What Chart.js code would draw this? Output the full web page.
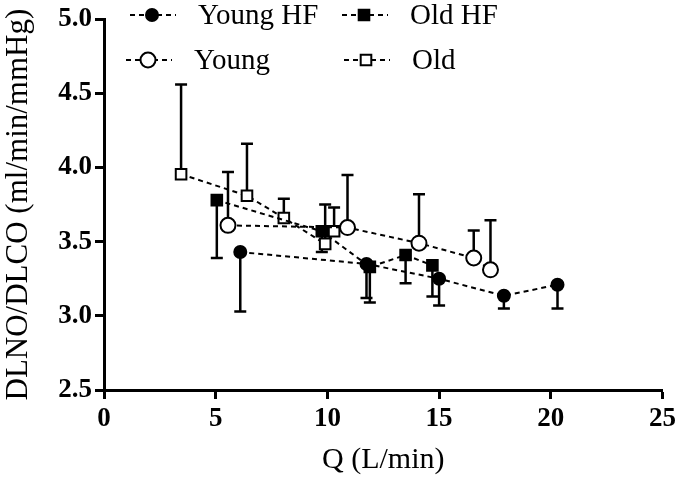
<!DOCTYPE html>
<html lang="en">
<head>
<meta charset="UTF-8">
<title>DLNO/DLCO vs Q</title>
<script src="https://cdn.jsdelivr.net/npm/chart.js"></script>
<style>
  html, body { margin: 0; padding: 0; background: #fff; }
</style>
</head>
<body>
<canvas id="chart" width="680" height="478"></canvas>
<script>
// values; err = length of the one-sided SD bar
const youngHfQ = [6.1, 11.75, 15.0, 17.9, 20.3];
const youngHfRatio = [3.43, 3.35, 3.25, 3.135, 3.21];
const youngHfErr = [0.40, 0.23, 0.18, 0.085, 0.16];

const youngQ = [5.55, 10.9, 14.1, 16.55, 17.3];
const youngRatio = [3.61, 3.595, 3.49, 3.39, 3.31];
const youngErr = [0.36, 0.355, 0.33, 0.185, 0.335];

const oldHfQ = [5.05, 9.75, 11.9, 13.5, 14.7];
const oldHfRatio = [3.78, 3.57, 3.33, 3.41, 3.34];
const oldHfErr = [0.39, 0.14, 0.24, 0.19, 0.21];

const oldQ = [3.45, 6.4, 8.05, 9.9, 10.3];
const oldRatio = [3.955, 3.81, 3.66, 3.485, 3.57];
const oldErr = [0.605, 0.35, 0.13, 0.265, 0.16];

const xTicks = [0, 5, 10, 15, 20, 25];
const yTicks = [2.5, 3.0, 3.5, 4.0, 4.5, 5.0];

const SERIF = "'Liberation Serif'";
Chart.defaults.font.family = SERIF;

function points(xs, ys) {
    return xs.map((x, i) => ({ x: x, y: ys[i] }));
}

function series(label, xs, ys, errs, dir, style, filled, radius) {
    return {
        label: label,
        data: points(xs, ys),
        errs: errs,
        errDir: dir,
        showLine: true,
        borderColor: '#000',
        borderWidth: 2,
        borderDash: [5, 4],
        pointStyle: style,
        pointRadius: radius,
        pointBorderWidth: 2,
        pointBorderColor: '#000',
        pointBackgroundColor: filled ? '#000' : '#fff'
    };
}

// dataset 0 is drawn on top in Chart.js
const datasets = [
    series('Young HF', youngHfQ, youngHfRatio, youngHfErr, -1, 'circle', true, 6),
    series('Old HF', oldHfQ, oldHfRatio, oldHfErr, -1, 'rect', true, 7.5),
    series('Young', youngQ, youngRatio, youngErr, 1, 'circle', false, 7.5),
    series('Old', oldQ, oldRatio, oldErr, 1, 'rect', false, 7.5)
];

const errorBars = {
    id: 'errorBars',
    beforeDatasetsDraw(chart) {
        const ctx = chart.ctx;
        const xs = chart.scales.x, ys = chart.scales.y;
        ctx.save();
        ctx.strokeStyle = '#000';
        ctx.lineWidth = 2.5;
        ctx.setLineDash([]);
        chart.data.datasets.forEach(ds => {
            ds.data.forEach((p, i) => {
                const px = xs.getPixelForValue(p.x);
                const py = ys.getPixelForValue(p.y);
                const ey = ys.getPixelForValue(p.y + ds.errDir * ds.errs[i]);
                ctx.beginPath();
                ctx.moveTo(px, py);
                ctx.lineTo(px, ey);
                ctx.moveTo(px - 6, ey);
                ctx.lineTo(px + 6, ey);
                ctx.stroke();
            });
        });
        ctx.restore();
    }
};

// 2x2 legend in the top of the plot
const legendSpots = [
    { ds: 0, x: 152, y: 15 },
    { ds: 1, x: 364, y: 15 },
    { ds: 2, x: 148, y: 60 },
    { ds: 3, x: 366, y: 60 }
];

const gridLegend = {
    id: 'gridLegend',
    afterDraw(chart) {
        const ctx = chart.ctx;
        ctx.save();
        legendSpots.forEach(s => {
            const ds = chart.data.datasets[s.ds];
            ctx.strokeStyle = '#000';
            ctx.lineWidth = 2;
            ctx.setLineDash([5, 4]);
            ctx.beginPath();
            ctx.moveTo(s.x - 22, s.y);
            ctx.lineTo(s.x + 24, s.y);
            ctx.stroke();
            ctx.setLineDash([]);
            ctx.fillStyle = ds.pointBackgroundColor;
            ctx.strokeStyle = '#000';
            ctx.lineWidth = 2;
            Chart.helpers.drawPoint(ctx, {
                pointStyle: ds.pointStyle,
                radius: ds.pointRadius,
                rotation: 0,
                borderWidth: 2
            }, s.x, s.y);
            ctx.fillStyle = '#000';
            ctx.font = '29px ' + SERIF;
            ctx.textBaseline = 'middle';
            ctx.textAlign = 'left';
            ctx.fillText(ds.label, s.x + 46, s.y + 1);
        });
        ctx.restore();
    }
};

new Chart(document.getElementById('chart'), {
    type: 'scatter',
    data: { datasets: datasets },
    plugins: [errorBars, gridLegend],
    options: {
        responsive: false,
        animation: false,
        devicePixelRatio: 1,
        layout: { padding: { top: 14, right: 15, left: 0, bottom: 0 } },
        plugins: {
            legend: { display: false },
            tooltip: { enabled: false }
        },
        scales: {
            x: {
                type: 'linear',
                min: 0,
                max: 25,
                afterBuildTicks: axis => { axis.ticks = xTicks.map(v => ({ value: v })); },
                afterFit: axis => { axis.height = 88; },
                border: { display: true, color: '#000', width: 3 },
                grid: { drawOnChartArea: false, drawTicks: true, tickLength: 9, tickColor: '#000', tickWidth: 3 },
                ticks: {
                    color: '#000',
                    padding: 4,
                    font: { family: SERIF, size: 27, weight: 'bold' },
                    callback: v => v
                },
                title: {
                    display: true,
                    text: 'Q (L/min)',
                    color: '#000',
                    font: { family: SERIF, size: 30 },
                    padding: { top: 6, bottom: 0 }
                }
            },
            y: {
                type: 'linear',
                min: 2.5,
                max: 5.0,
                afterBuildTicks: axis => { axis.ticks = yTicks.map(v => ({ value: v })); },
                afterFit: axis => { axis.width = 104; },
                border: { display: true, color: '#000', width: 3 },
                grid: { drawOnChartArea: false, drawTicks: true, tickLength: 9, tickColor: '#000', tickWidth: 3 },
                ticks: {
                    color: '#000',
                    padding: 3,
                    font: { family: SERIF, size: 27, weight: 'bold' },
                    callback: v => Number(v).toFixed(1)
                },
                title: {
                    display: true,
                    text: 'DLNO/DLCO (ml/min/mmHg)',
                    color: '#000',
                    font: { family: SERIF, size: 31 },
                    padding: { top: 0, bottom: 0 }
                }
            }
        }
    }
});
</script>
</body>
</html>
